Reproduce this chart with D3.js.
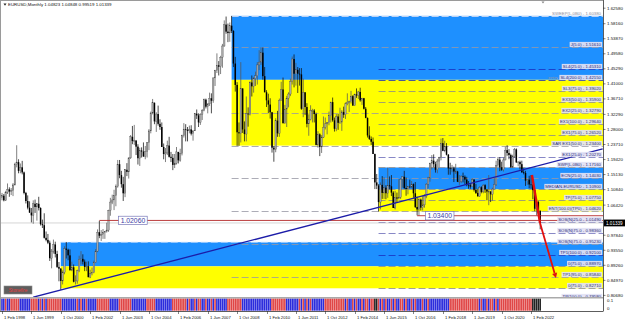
<!DOCTYPE html>
<html><head><meta charset="utf-8"><title>EURUSD Monthly</title>
<script src="https://cdn.jsdelivr.net/npm/d3@7/dist/d3.min.js"></script>
<style>
html,body{margin:0;padding:0;background:#fff;overflow:hidden;}
svg{display:block;font-family:"Liberation Sans",Arial,sans-serif;}
</style></head><body>
<svg id="chart" width="625" height="322"></svg>
<script>
// ---------------- DATA (monthly EURUSD, Feb 1998 .. Jul 2022) ----------------
const titleText = "EURUSD,Monthly  1.04823 1.04848 0.99519 1.01339";
const openP = [
1.0860,1.0910,1.0780,1.1010,1.1090,1.1030,1.1050,1.1220,1.1800,1.1870,1.1620,
1.1720,1.1575,1.0990,1.0760,1.0570,1.0430,1.0350,1.0680,1.0590,1.0680,1.0560,1.0100,
1.0070,0.9710,0.9650,0.9570,0.9130,0.9330,0.9520,0.9250,0.8880,0.8830,0.8480,0.8720,
0.9400,0.9370,0.9210,0.8790,0.8870,0.8460,0.8480,0.8770,0.9100,0.9110,0.9030,0.8880,
0.8900,0.8590,0.8690,0.8720,0.9010,0.9330,0.9870,0.9770,0.9810,0.9860,0.9890,0.9930,
1.0490,1.0730,1.0790,1.0910,1.1180,1.1810,1.1500,1.1240,1.0980,1.1650,1.1590,1.1990,
1.2590,1.2470,1.2480,1.2310,1.1980,1.2200,1.2170,1.2030,1.2170,1.2420,1.2760,1.3270,
1.3560,1.3030,1.3240,1.2960,1.2870,1.2300,1.2100,1.2130,1.2340,1.2020,1.1990,1.1790,
1.1840,1.2160,1.1920,1.2110,1.2620,1.2810,1.2790,1.2760,1.2800,1.2680,1.2760,1.3250,
1.3200,1.3000,1.3230,1.3350,1.3650,1.3450,1.3530,1.3690,1.3620,1.4270,1.4480,1.4630,
1.4590,1.4860,1.5180,1.5790,1.5590,1.5550,1.5760,1.5610,1.4680,1.4070,1.2720,1.2690,
1.3970,1.2800,1.2670,1.3250,1.3230,1.4140,1.4030,1.4250,1.4330,1.4640,1.4720,1.4990,
1.4320,1.3860,1.3630,1.3510,1.3290,1.2280,1.2230,1.3050,1.2690,1.3630,1.3940,1.2980,
1.3380,1.3690,1.3810,1.4170,1.4810,1.4390,1.4500,1.4390,1.4370,1.3390,1.3860,1.3440,
1.2960,1.3080,1.3340,1.3340,1.3240,1.2360,1.2660,1.2300,1.2580,1.2860,1.2960,1.2990,
1.3190,1.3580,1.3060,1.2820,1.3170,1.2990,1.3010,1.3300,1.3220,1.3530,1.3580,1.3590,
1.3750,1.3480,1.3800,1.3770,1.3870,1.3630,1.3690,1.3390,1.3130,1.2630,1.2530,1.2450,
1.2100,1.1290,1.1200,1.0730,1.1220,1.0990,1.1140,1.0980,1.1210,1.1180,1.1000,1.0560,
1.0860,1.0830,1.0870,1.1380,1.1450,1.1130,1.1100,1.1170,1.1160,1.1240,1.0980,1.0590,
1.0520,1.0800,1.0570,1.0650,1.0900,1.1240,1.1420,1.1840,1.1910,1.1810,1.1650,1.1900,
1.2000,1.2410,1.2190,1.2320,1.2080,1.1690,1.1680,1.1690,1.1600,1.1600,1.1310,1.1320,
1.1470,1.1450,1.1370,1.1220,1.1210,1.1170,1.1370,1.1080,1.0990,1.0900,1.1150,1.1020,
1.1210,1.1090,1.1030,1.1030,1.0950,1.1100,1.1230,1.1780,1.1940,1.1720,1.1650,1.1930,
1.2210,1.2130,1.2070,1.1730,1.2020,1.2230,1.1860,1.1870,1.1810,1.1580,1.1560,1.1340,
1.1370,1.1230,1.1220,1.1070,1.0540,1.0730,1.04823];
const highP = [
1.0990,1.0960,1.1050,1.1260,1.1150,1.1130,1.1270,1.1850,1.2350,1.1950,1.1830,
1.1905,1.1600,1.1020,1.0920,1.0750,1.0560,1.0780,1.0800,1.0700,1.0880,1.0580,1.0230,
1.0410,0.9890,0.9820,0.9630,0.9390,0.9660,0.9600,0.9340,0.9020,0.8850,0.8780,0.9470,
0.9590,0.9400,0.9380,0.9030,0.8950,0.8640,0.8800,0.9200,0.9330,0.9240,0.9090,0.9030,
0.9040,0.8800,0.8860,0.9060,0.9390,0.9950,1.0194,0.9930,0.9960,0.9900,1.0140,1.0510,
1.0850,1.0940,1.1080,1.1230,1.1930,1.1930,1.1620,1.1450,1.1670,1.1840,1.2000,1.2640,
1.2900,1.2930,1.2500,1.2380,1.2280,1.2290,1.2430,1.2330,1.2440,1.2810,1.3310,1.3670,
1.3570,1.3290,1.3480,1.3090,1.3000,1.2400,1.2270,1.2480,1.2590,1.2160,1.2100,1.2100,
1.2300,1.2160,1.2250,1.2650,1.2980,1.2950,1.2870,1.2910,1.2920,1.2780,1.3270,1.3370,
1.3260,1.3260,1.3380,1.3680,1.3680,1.3540,1.3850,1.3830,1.4280,1.4500,1.4970,1.4750,
1.4900,1.5240,1.5910,1.6020,1.5820,1.5850,1.6038,1.5630,1.4870,1.4150,1.3000,1.4720,
1.3970,1.3030,1.3740,1.3430,1.4170,1.4340,1.4300,1.4450,1.4720,1.5060,1.5140,1.5140,
1.4580,1.3920,1.3820,1.3690,1.3300,1.2330,1.3120,1.3330,1.3680,1.4160,1.4280,1.3500,
1.3760,1.3860,1.4250,1.4880,1.4940,1.4700,1.4580,1.4550,1.4550,1.4250,1.3860,1.3550,
1.3230,1.3490,1.3390,1.3380,1.3280,1.2750,1.2690,1.2640,1.3170,1.3140,1.3010,1.3310,
1.3590,1.3710,1.3140,1.3240,1.3240,1.3420,1.3350,1.3450,1.3570,1.3830,1.3620,1.3900,
1.3780,1.3820,1.3970,1.3900,1.3990,1.3700,1.3700,1.3440,1.3140,1.2890,1.2600,1.2570,
1.2110,1.1530,1.1240,1.1290,1.1470,1.1440,1.1210,1.1710,1.1460,1.1500,1.1040,1.1050,
1.1000,1.1380,1.1410,1.1460,1.1620,1.1430,1.1190,1.1370,1.1330,1.1260,1.1300,1.0880,
1.0830,1.0830,1.0910,1.0950,1.1270,1.1450,1.1850,1.2070,1.2090,1.1880,1.1960,1.2020,
1.2540,1.2555,1.2480,1.2410,1.2100,1.1850,1.1790,1.1740,1.1820,1.1620,1.1500,1.1490,
1.1570,1.1490,1.1450,1.1330,1.1260,1.1410,1.1380,1.1250,1.1110,1.1180,1.1180,1.1240,
1.1240,1.1100,1.1500,1.1040,1.1140,1.1420,1.1910,1.2010,1.2010,1.1880,1.2000,1.2310,
1.2350,1.2240,1.2110,1.2080,1.2270,1.2260,1.1900,1.1910,1.1910,1.1690,1.1620,1.1390,
1.1480,1.1500,1.1240,1.1080,1.0790,1.0770,1.04848];
const lowP = [
1.0780,1.0750,1.0760,1.0960,1.0880,1.0930,1.0900,1.1200,1.1720,1.1550,1.1550,
1.1520,1.0950,1.0690,1.0520,1.0420,1.0150,1.0110,1.0420,1.0200,1.0490,1.0060,0.9990,
0.9690,0.9610,0.9530,0.9050,0.8840,0.9260,0.9150,0.8850,0.8470,0.8225,0.8380,0.8670,
0.9120,0.9070,0.8770,0.8760,0.8440,0.8380,0.8400,0.8730,0.8950,0.8950,0.8760,0.8760,
0.8580,0.8560,0.8640,0.8700,0.8990,0.9300,0.9700,0.9620,0.9680,0.9680,0.9860,0.9880,
1.0340,1.0670,1.0500,1.0610,1.1140,1.1410,1.1140,1.0760,1.0870,1.1470,1.1400,1.1960,
1.2380,1.2360,1.2070,1.1800,1.1760,1.2000,1.2020,1.1950,1.2000,1.2210,1.2690,1.3230,
1.2950,1.2730,1.2910,1.2790,1.2300,1.1950,1.1870,1.2070,1.2000,1.1870,1.1640,1.1700,
1.1800,1.1830,1.1880,1.2060,1.2570,1.2460,1.2460,1.2690,1.2630,1.2480,1.2760,1.3100,
1.2870,1.2930,1.3070,1.3320,1.3400,1.3260,1.3470,1.3260,1.3560,1.4040,1.4410,1.4340,
1.4380,1.4560,1.5160,1.5530,1.5290,1.5300,1.5550,1.4580,1.3880,1.2330,1.2330,1.2430,
1.2700,1.2460,1.2460,1.2880,1.3200,1.3740,1.3850,1.4040,1.4080,1.4490,1.4640,1.4220,
1.3860,1.3440,1.3270,1.3110,1.2140,1.1880,1.2150,1.2590,1.2590,1.3630,1.2970,1.2970,
1.2870,1.3430,1.3750,1.4080,1.4000,1.4050,1.3840,1.4050,1.3360,1.3150,1.3210,1.2860,
1.2620,1.3060,1.3000,1.3000,1.2350,1.2280,1.2040,1.2130,1.2560,1.2800,1.2660,1.2920,
1.3000,1.3020,1.2740,1.2750,1.2790,1.2960,1.2760,1.3130,1.3100,1.3490,1.3300,1.3540,
1.3480,1.3480,1.3700,1.3670,1.3590,1.3500,1.3370,1.3120,1.2570,1.2500,1.2360,1.2100,
1.1100,1.1100,1.0460,1.0520,1.0820,1.0820,1.0810,1.0850,1.1090,1.0900,1.0560,1.0520,
1.0710,1.0810,1.0820,1.1140,1.1100,1.0910,1.0950,1.1120,1.1120,1.0850,1.0560,1.0350,
1.0340,1.0490,1.0490,1.0570,1.0840,1.1120,1.1310,1.1660,1.1720,1.1570,1.1550,1.1720,
1.1920,1.2180,1.2150,1.2060,1.1510,1.1510,1.1580,1.1300,1.1530,1.1300,1.1220,1.1270,
1.1290,1.1230,1.1180,1.1110,1.1110,1.1160,1.1030,1.0960,1.0880,1.0880,1.0980,1.0980,
1.0990,1.0780,1.0640,1.0730,1.0770,1.1100,1.1190,1.1710,1.1610,1.1620,1.1600,1.1920,
1.2050,1.1950,1.1700,1.1700,1.1990,1.1850,1.1750,1.1660,1.1560,1.1520,1.1190,1.1220,
1.1120,1.1110,1.0810,1.0470,1.0350,1.0360,0.99519];
const closeP = [
1.0910,1.0780,1.1010,1.1090,1.1030,1.1050,1.1220,1.1800,1.1870,1.1620,1.1720,
1.1575,1.0990,1.0760,1.0570,1.0430,1.0350,1.0680,1.0590,1.0680,1.0560,1.0100,1.0070,
0.9710,0.9650,0.9570,0.9130,0.9330,0.9520,0.9250,0.8880,0.8830,0.8480,0.8720,0.9400,
0.9370,0.9210,0.8790,0.8870,0.8460,0.8480,0.8770,0.9100,0.9110,0.9030,0.8880,0.8900,
0.8590,0.8690,0.8720,0.9010,0.9330,0.9870,0.9770,0.9810,0.9860,0.9890,0.9930,1.0490,
1.0730,1.0790,1.0910,1.1180,1.1810,1.1500,1.1240,1.0980,1.1650,1.1590,1.1990,1.2590,
1.2470,1.2480,1.2310,1.1980,1.2200,1.2170,1.2030,1.2170,1.2420,1.2760,1.3270,1.3560,
1.3030,1.3240,1.2960,1.2870,1.2300,1.2100,1.2130,1.2340,1.2020,1.1990,1.1790,1.1840,
1.2160,1.1920,1.2110,1.2620,1.2810,1.2790,1.2760,1.2800,1.2680,1.2760,1.3250,1.3200,
1.3000,1.3230,1.3350,1.3650,1.3450,1.3530,1.3690,1.3620,1.4270,1.4480,1.4630,1.4590,
1.4860,1.5180,1.5790,1.5590,1.5550,1.5760,1.5610,1.4680,1.4070,1.2720,1.2690,1.3970,
1.2800,1.2670,1.3250,1.3230,1.4140,1.4030,1.4250,1.4330,1.4640,1.4720,1.4990,1.4320,
1.3860,1.3630,1.3510,1.3290,1.2280,1.2230,1.3050,1.2690,1.3630,1.3940,1.2980,1.3380,
1.3690,1.3810,1.4170,1.4810,1.4390,1.4500,1.4390,1.4370,1.3390,1.3860,1.3440,1.2960,
1.3080,1.3340,1.3340,1.3240,1.2360,1.2660,1.2300,1.2580,1.2860,1.2960,1.2990,1.3190,
1.3580,1.3060,1.2820,1.3170,1.2990,1.3010,1.3300,1.3220,1.3530,1.3580,1.3590,1.3750,
1.3480,1.3800,1.3770,1.3870,1.3630,1.3690,1.3390,1.3130,1.2630,1.2530,1.2450,1.2100,
1.1290,1.1200,1.0730,1.1220,1.0990,1.1140,1.0980,1.1210,1.1180,1.1000,1.0560,1.0860,
1.0830,1.0870,1.1380,1.1450,1.1130,1.1100,1.1170,1.1160,1.1240,1.0980,1.0590,1.0520,
1.0800,1.0570,1.0650,1.0900,1.1240,1.1420,1.1840,1.1910,1.1810,1.1650,1.1900,1.2000,
1.2410,1.2190,1.2320,1.2080,1.1690,1.1680,1.1690,1.1600,1.1600,1.1310,1.1320,1.1470,
1.1450,1.1370,1.1220,1.1210,1.1170,1.1370,1.1080,1.0990,1.0900,1.1150,1.1020,1.1210,
1.1090,1.1030,1.1030,1.0950,1.1100,1.1230,1.1780,1.1940,1.1720,1.1650,1.1930,1.2210,
1.2130,1.2070,1.1730,1.2020,1.2230,1.1860,1.1870,1.1810,1.1580,1.1560,1.1340,1.1370,
1.1230,1.1220,1.1070,1.0540,1.0730,1.0480,1.01339];

// indicator sub-window colour per month: r = red, b = blue, k = black
const histCodes = "bbrbb"+"rrrrr"+"bbbbbb"+"rrr"+"rbrbrbr"+"rrrrrrr"+"bbbbbbbb"+"rbrbbr"+"bbbbb"+"rrrrrrr"+
  "bbbbb"+"rrrrrrr"+"bbbbbbbb"+"rrrrr"+"bbbbbbbbb"+"rrrrrrrr"+"brbbrbrrbbrbbrbrbb"+"bbbb"+"rrrrrrrr"+
  "bbbbbbbbbbbbbbbb"+"rrrrrrrr"+"bbbbbbb"+"rbrbrbr"+"bbbbbbb"+"rrrrrrrrrrr"+"brbbrbrbbrbrrbr"+"rkkr"+
  "brbrbbrbrbbrrbrbbr"+"brbbbrbbrbb"+"bbbbbbbbb"+"rrrrrrrrrrrrrrr"+"rbrbbrbrrbrb"+"rrrrrrrrrrrrrrrrrr"+"kkkkk";

// time axis (month index from Feb 1998)
const timeTickIndex = [0,16,32,48,64,80,96,112,128,144,160,176,192,208,224,240,256,272,288];
const timeTickLabels = ["1 Feb 1998","1 Jun 1999","1 Oct 2000","1 Feb 2002","1 Jun 2003","1 Oct 2004","1 Feb 2006",
  "1 Jun 2007","1 Oct 2008","1 Feb 2010","1 Jun 2011","1 Oct 2012","1 Feb 2014","1 Jun 2015","1 Oct 2016",
  "1 Feb 2018","1 Jun 2019","1 Oct 2020","1 Feb 2022"];
// price axis (the 1.02130 tick is covered by the last-price box)
const priceTicks = [1.62580,1.58160,1.53870,1.49580,1.45290,1.41000,1.36710,1.32290,1.28000,1.23710,1.19420,
  1.15130,1.10840,1.06420,0.97840,0.93550,0.89260,0.84970,0.80680];
const lastPrice = 1.01339;

// zones (rectangles): start month, top price, bottom price, kind
const zoneStart = [125,125,205,205,32,32];
const zoneTop   = [1.6038,1.4215,1.1716,1.1090,0.9585,0.8897];
const zoneBottom= [1.4215,1.2340,1.1090,1.0462,0.8897,0.8271];
const zoneKind  = ["supply","demand","supply","demand","supply","demand"];

// level lines
const levelPrices = [1.60380,1.51610,1.45310,1.42150,1.39020,1.35900,1.32790,1.29640,1.26520,1.23400,1.20270,1.17160,
  1.14030,1.10900,1.07750,1.04620,1.01490,0.98360,0.95230,0.92100,0.88970,0.85840,0.82710,0.79580];
const levelNames = ["SWEEP(L,0B0)","J(5.0)","SL4(25.0)","SL4(200.0)","SL3(75.0)","EX3(50.0)","EX2(25.0)","EX1(100.0)",
  "EX1(75.0)","SAR EX1(50.0)","EX1(25.0)","SWP(L,0B0)","ECN(25.0)","MEDIAN-EURUSD","TP(75.0)","ENT(100.0)(TP0)",
  "SOS(N)25.0","SOS(N)75.0","SOS(N)75.0","TP1(100.0)","0(75.0)","TP1(95.0)","0(75.0)","TP(100.0)"];
const levelStart = [125,125,205,205,205,205,125,205,205,125,205,205,125,205,205,125,205,205,125,205,205,125,205,205];
const levelGroup = ["top","long","sl","sl","short","short","long","short","short","long","purple","short",
  "long","short","short","long","purple","purple","long","sl","short","long","short","short"];

// horizontal price marks
const markPrices = [1.02060,1.03400];
const markStart = [53,226];
const markLabelAt = [63.5,230.5];

// trend line and arrow (month index, price)
const trendPts = [[17,0.8017],[327,1.2245]];
const arrowPts = [[288.5,1.1503],[292.9,1.0135],[301.6,0.8562]];

// ---------------- DRAWING ----------------
const svg = d3.select("#chart");
const PL = 1, PR = 603, PT = 1, PB = 297;
const SUBT = 298, SUBB = 311;
const x = d3.scaleLinear().domain([0,293]).range([2,540.2]);
const y = d3.scaleLinear().domain([0.80680,1.62580]).range([295.4,8.2]);
const step = x(1)-x(0);

svg.append("rect").attr("width",625).attr("height",322).attr("fill","#fff");
const defs = svg.append("defs");
defs.append("clipPath").attr("id","clipMain").append("rect").attr("x",PL).attr("y",PT).attr("width",PR-PL).attr("height",PB-PT);

const main = svg.append("g").attr("clip-path","url(#clipMain)");

// zones
const zoneColor = {supply:"#1e90ff", demand:"#ffff00"};
main.selectAll("rect.zone").data(zoneStart.map((s,i)=>({s,t:zoneTop[i],b:zoneBottom[i],k:zoneKind[i]})))
  .join("rect").attr("class","zone")
  .attr("x",d=>x(d.s)).attr("width",d=>PR-x(d.s))
  .attr("y",d=>y(d.t)).attr("height",d=>y(d.b)-y(d.t))
  .attr("fill",d=>zoneColor[d.k]);
main.selectAll("line.zedge").data(zoneStart.map((s,i)=>({s,t:zoneTop[i],k:zoneKind[i]})).filter(d=>d.k==="supply"))
  .join("line").attr("x1",d=>x(d.s)).attr("x2",PR).attr("y1",d=>y(d.t)).attr("y2",d=>y(d.t))
  .attr("stroke","#cfe3ff").attr("stroke-width",0.8).attr("stroke-dasharray","7,3");

// level lines
const levelColor = {top:"#d6dcf4",long:"#9898a4",sl:"#1a2fc0",short:"#8a8a8a",purple:"#6a6ab8"};
const levels = levelPrices.map((p,i)=>({p,name:levelNames[i],s:levelStart[i],g:levelGroup[i]}));
main.selectAll("line.lvl").data(levels).join("line").attr("class","lvl")
  .attr("x1",d=>x(d.s)).attr("x2",PR).attr("y1",d=>Math.round(y(d.p))+0.5).attr("y2",d=>Math.round(y(d.p))+0.5)
  .attr("stroke",d=>levelColor[d.g]).attr("stroke-width",0.8).attr("stroke-dasharray","7,3");

// current price line
main.append("line").attr("x1",PL).attr("x2",PR).attr("y1",y(lastPrice)).attr("y2",y(lastPrice))
  .attr("stroke","#c4c4c4").attr("stroke-width",0.7);

// candles
const candles = closeP.map((c,i)=>({i,o:openP[i],h:highP[i],l:lowP[i],c}));
main.selectAll("line.wick").data(candles).join("line").attr("class","wick")
  .attr("x1",d=>x(d.i)).attr("x2",d=>x(d.i)).attr("y1",d=>y(d.h)).attr("y2",d=>y(d.l))
  .attr("stroke",d=>d.c>=d.o?"#555":"#111").attr("stroke-width",0.75);
main.selectAll("rect.body").data(candles).join("rect").attr("class","body")
  .attr("x",d=>x(d.i)-0.75).attr("width",1.5)
  .attr("y",d=>y(Math.max(d.o,d.c)))
  .attr("height",d=>Math.max(0.6,Math.abs(y(d.o)-y(d.c))))
  .attr("fill",d=>d.c>=d.o?"#a8a8a8":"#000")
  .attr("stroke",d=>d.c>=d.o?"#444":"none").attr("stroke-width",0.3);

// horizontal red marks
main.selectAll("line.mark").data(markPrices.map((p,i)=>({p,s:markStart[i]}))).join("line")
  .attr("x1",d=>x(d.s)).attr("x2",PR).attr("y1",d=>y(d.p)).attr("y2",d=>y(d.p))
  .attr("stroke","#b42828").attr("stroke-width",0.9);

// trend line
main.append("line").attr("x1",x(trendPts[0][0])).attr("y1",y(trendPts[0][1]))
  .attr("x2",x(trendPts[1][0])).attr("y2",y(trendPts[1][1]))
  .attr("stroke","#1c1ca8").attr("stroke-width",1.3);

// red arrow
const ap = arrowPts.map(d=>[x(d[0]),y(d[1])]);
main.append("line").attr("x1",ap[0][0]).attr("y1",ap[0][1]).attr("x2",ap[1][0]).attr("y2",ap[1][1])
  .attr("stroke","#e01010").attr("stroke-width",2.4);
const ang = Math.atan2(ap[2][1]-ap[1][1], ap[2][0]-ap[1][0]);
const tipBack = 5;
const bx = ap[2][0]-tipBack*Math.cos(ang), by = ap[2][1]-tipBack*Math.sin(ang);
main.append("line").attr("x1",ap[1][0]).attr("y1",ap[1][1]).attr("x2",bx).attr("y2",by)
  .attr("stroke","#e01010").attr("stroke-width",1.8);
const perp = ang+Math.PI/2;
main.append("path").attr("d",`M${ap[2][0]},${ap[2][1]} L${bx+2.6*Math.cos(perp)},${by+2.6*Math.sin(perp)} L${bx-2.6*Math.cos(perp)},${by-2.6*Math.sin(perp)} Z`)
  .attr("fill","#e01010");

// level labels
const lblG = main.append("g").attr("font-size","4.3px");
levels.forEach((d,i)=>{
  const ly = Math.round(y(d.p))+0.5;
  const txt = d.name+" - "+d.p.toFixed(5);
  if(d.g==="top"){
    lblG.append("text").attr("x",601).attr("y",ly-1.2).attr("text-anchor","end").attr("fill","#8a8a9a").text(txt);
    return;
  }
  const t = lblG.append("text").attr("x",601).attr("y",ly-1.2).attr("text-anchor","end").attr("fill","#2a2a78").text(txt);
  const w = t.node().getComputedTextLength();
  lblG.insert("rect","text").attr("x",601-w-1).attr("y",ly-5.6).attr("width",w+2.2).attr("height",5.2)
    .attr("fill","#e2e2f4").attr("opacity",0.92);
  if(i===3){
    lblG.append("text").attr("x",601-w-2.5).attr("y",ly-1.2).attr("text-anchor","end").attr("fill","#9a9aa8").text("entry");
  }
});

// mark labels (boxes)
markPrices.forEach((p,i)=>{
  const cx = x(markLabelAt[i]);
  const cy = y(p);
  const g = main.append("g");
  const t = g.append("text").attr("x",cx+2).attr("y",cy+2.4).attr("font-size","6.8px").attr("fill","#3c3ca4").text(p.toFixed(5));
  const w = t.node().getComputedTextLength();
  g.insert("rect","text").attr("x",cx).attr("y",cy-4.2).attr("width",w+4).attr("height",8.4)
    .attr("fill","#fff").attr("stroke","#7878b8").attr("stroke-width",0.7);
});

// "Stonefire" button
const btn = svg.append("g");
btn.append("rect").attr("x",4).attr("y",286).attr("width",28).attr("height",8).attr("fill","#5e5e5e").attr("stroke","#8a8a8a").attr("stroke-width",0.6);
btn.append("text").attr("x",18).attr("y",291.8).attr("text-anchor","middle").attr("font-size","4.6px").attr("fill","#e83a3a").text("Stonefire");

// title
svg.append("path").attr("d","M3.5,3.6 L6.5,3.6 L5,5.8 Z").attr("fill","#222");
svg.append("text").attr("x",8).attr("y",6.2).attr("font-size","4.4px").attr("fill","#111").text(titleText);
// shift marker
svg.append("path").attr("d","M541.5,1.5 L544.5,1.5 L543,3.5 Z").attr("fill","#888");

// frames
svg.append("line").attr("x1",0.5).attr("x2",0.5).attr("y1",0).attr("y2",SUBB).attr("stroke","#9a9a9a").attr("stroke-width",1);
svg.append("line").attr("x1",0).attr("x2",PR).attr("y1",0.5).attr("y2",0.5).attr("stroke","#9a9a9a").attr("stroke-width",1);
svg.append("line").attr("x1",PR+0.5).attr("x2",PR+0.5).attr("y1",0).attr("y2",SUBB).attr("stroke","#333").attr("stroke-width",0.8);
svg.append("line").attr("x1",0).attr("x2",PR).attr("y1",PB+0.5).attr("y2",PB+0.5).attr("stroke","#9a9a9a").attr("stroke-width",0.8);

// price axis
const axG = svg.append("g").attr("font-size","4.4px").attr("fill","#111");
priceTicks.forEach(v=>{
  const py = y(v);
  axG.append("line").attr("x1",PR).attr("x2",PR+2.5).attr("y1",py).attr("y2",py).attr("stroke","#333").attr("stroke-width",0.6);
  axG.append("text").attr("x",PR+4).attr("y",py+1.5).text(v.toFixed(5));
});
// last price box
const lpY = y(lastPrice);
axG.append("rect").attr("x",PR+1).attr("y",lpY-3.4).attr("width",21).attr("height",6.8).attr("fill","#000");
axG.append("text").attr("x",PR+3).attr("y",lpY+1.6).attr("fill","#fff").attr("font-size","4.6px").text(lastPrice.toFixed(5));

// indicator sub-window
const sub = svg.append("g");
sub.selectAll("rect.h").data(histCodes.split("").map((c,i)=>({c,i}))).join("rect")
  .attr("x",d=>x(d.i)-step/2+0.1).attr("width",step-0.25)
  .attr("y",SUBT+0.5).attr("height",SUBB-SUBT-0.8)
  .attr("fill",d=>d.c==="r"?"#e04646":(d.c==="b"?"#2c2cdc":"#222"));
sub.append("line").attr("x1",0).attr("x2",PR).attr("y1",SUBT+0.2).attr("y2",SUBT+0.2).attr("stroke","#9a9a9a").attr("stroke-width",0.6);
sub.append("line").attr("x1",0).attr("x2",PR+0.5).attr("y1",SUBB+0.5).attr("y2",SUBB+0.5).attr("stroke","#333").attr("stroke-width",0.8);
axG.append("text").attr("x",PR+4).attr("y",302.3).text("0.1");
axG.append("text").attr("x",PR+4).attr("y",310.3).text("0");

// time axis
const tG = svg.append("g").attr("font-size","4.2px").attr("fill","#111");
timeTickIndex.forEach((m,i)=>{
  const tx = Math.round(x(m))+0.5;
  tG.append("line").attr("x1",tx).attr("x2",tx).attr("y1",SUBB).attr("y2",SUBB+3).attr("stroke","#333").attr("stroke-width",0.6);
  tG.append("text").attr("x",tx+1.5).attr("y",318.5).text(timeTickLabels[i]);
});
</script>
</body></html>
